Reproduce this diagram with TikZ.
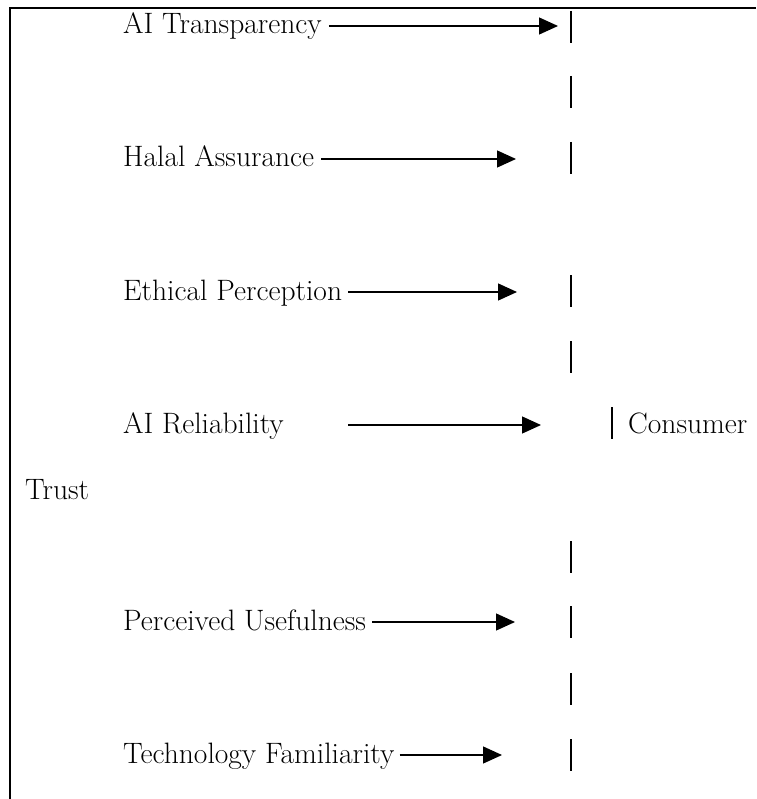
\documentclass[tikz,border=0pt]{standalone}
\usetikzlibrary{arrows.meta}
\begin{document}
\begin{tikzpicture}[x=1pt,y=-1pt,
  lbl/.style={anchor=base west,inner sep=0pt,font=\fontsize{29.5}{33}\selectfont},
  arr/.style={line width=1.3pt,-{Triangle[length=19pt,width=17pt]}},
  bar/.style={line width=1.6pt},
  frame/.style={line width=2pt}]
\useasboundingbox (0,0) rectangle (756,799);

% open frame: top rule and left rule
\draw[frame] (10,799) -- (10,8) -- (756,8);

% factor labels
\node[lbl] (at) at (123,34)  {AI Transparency};
\node[lbl] (ha) at (123,167) {Halal Assurance};
\node[lbl] (ep) at (123,300) {Ethical Perception};
\node[lbl] (ar) at (123,433) {AI Reliability};
\node[lbl] (pu) at (123,630) {Perceived Usefulness};
\node[lbl] (tf) at (123,763) {Technology Familiarity};
\node[lbl] (trust) at (25,499) {Trust};
\node[lbl] (consumer) at (628,433) {Consumer};

% arrow tips
\coordinate (atTip) at (558,26);
\coordinate (haTip) at (516,159);
\coordinate (epTip) at (517,292);
\coordinate (arStart) at (348,425);
\coordinate (arTip) at (541,425);
\coordinate (puTip) at (515,622);
\coordinate (tfTip) at (502,755);

\draw[arr] ([shift={(7,-8)}]at.base east) -- (atTip);
\draw[arr] ([shift={(7,-8)}]ha.base east) -- (haTip);
\draw[arr] ([shift={(6,-8)}]ep.base east) -- (epTip);
\draw[arr] (arStart) -- (arTip);
\draw[arr] ([shift={(6,-8)}]pu.base east) -- (puTip);
\draw[arr] ([shift={(5,-8)}]tf.base east) -- (tfTip);

% vertical bar column
\foreach \y in {27,92,158,291,357,557,622,689,755}
  \draw[bar] (571,\y-16) -- (571,\y+16);
\draw[bar] (612,407) -- (612,439);
\end{tikzpicture}
\end{document}
